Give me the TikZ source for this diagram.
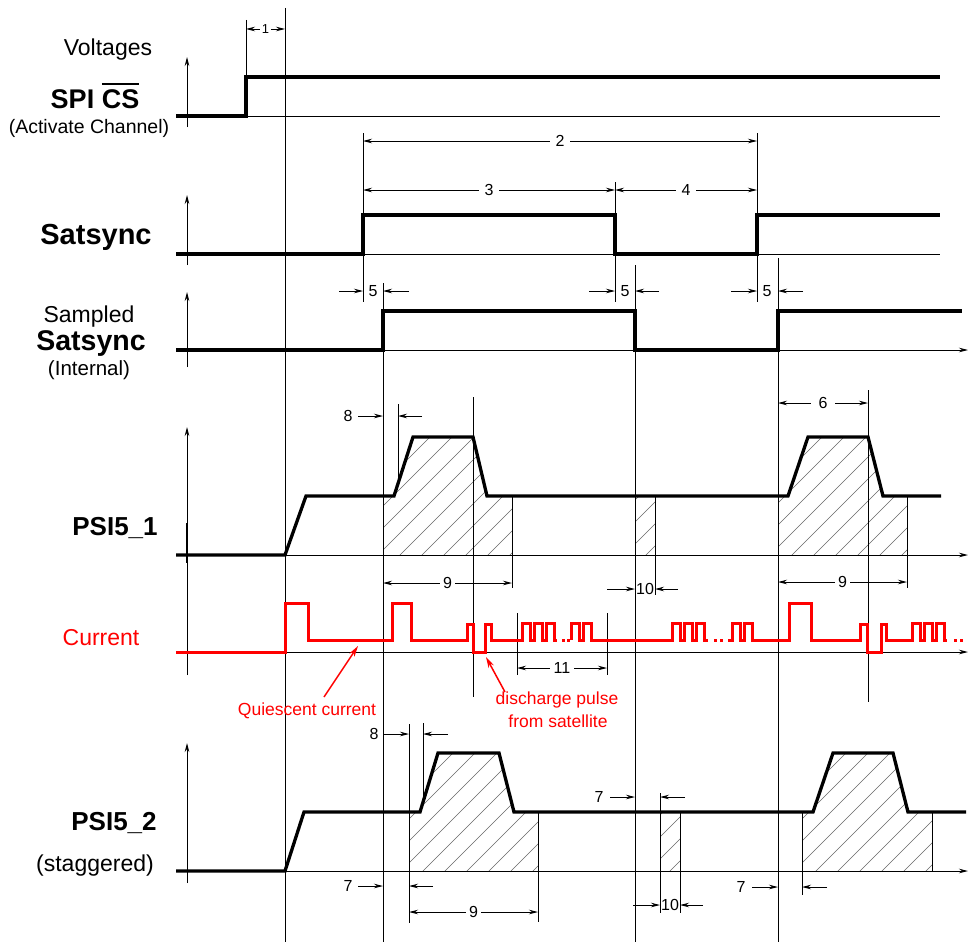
\documentclass[tikz,border=0pt]{standalone}
\usepackage{fontspec}
\setmainfont{Liberation Sans}
\usetikzlibrary{arrows.meta}
\tikzset{
 sig/.style={line width=3.3pt, line join=miter},
 rsig/.style={red, line width=3pt, line join=miter},
 thinl/.style={line width=0.9pt},
 axisl/.style={line width=0.9pt, -{Stealth[length=9pt,width=4.5pt]}},
 dimboth/.style={line width=0.9pt, {Stealth[length=9pt,width=4.5pt]}-{Stealth[length=9pt,width=4.5pt]}},
 dimin/.style={line width=0.9pt, -{Stealth[length=9pt,width=4.5pt]}},
 hatchl/.style={black!60, line width=0.55pt},
 numl/.style={font=\fontsize{16}{17}\selectfont, inner sep=1pt},
 numf/.style={numl, fill=white, inner xsep=4pt},
 rlab/.style={red, font=\fontsize{17.5}{19}\selectfont, inner sep=0pt},
 rarr/.style={red, line width=1.5pt, -{Stealth[length=11pt,width=6pt]}},
 lab/.style={inner sep=0pt},
}
\newcommand\ovbar[1]{\vbox{\hrule height 2.6pt\kern 4pt\hbox{#1}}}
\newcommand\hatchit[4]{\begin{scope}\clip #1;\foreach \k in {0,...,#4}{\draw[hatchl] ({#2+22*\k-150},{#3+150}) -- ++(400,-400);}\end{scope}}
\begin{document}
\begin{tikzpicture}[x=1pt,y=-1pt]
\useasboundingbox (0,0) rectangle (969,942);
% ---------- hatching
\hatchit{(383,555) -- (383,496) -- (394,496) -- (413,437) -- (473,437) -- (487,496) -- (512,496) -- (512,555) -- cycle}{268}{555}{11}
\hatchit{(778,555) -- (778,496) -- (788,496) -- (808,437) -- (868,437) -- (883,496) -- (907,496) -- (907,555) -- cycle}{660}{555}{11}
\hatchit{(635,555) -- (635,496) -- (655,496) -- (655,555) -- cycle}{580}{555}{4}
\hatchit{(409,871) -- (409,812) -- (420,812) -- (438,753) -- (499,753) -- (514,812) -- (538,812) -- (538,871) -- cycle}{291}{871}{12}
\hatchit{(660,871) -- (660,812) -- (680,812) -- (680,871) -- cycle}{604}{871}{4}
\hatchit{(802,871) -- (802,812) -- (813,812) -- (833,753) -- (893,753) -- (908,812) -- (932,812) -- (932,871) -- cycle}{684}{871}{12}
% ---------- long vertical reference lines
\draw[thinl] (285,8) -- (285,942);
\draw[thinl] (383,283) -- (383,942);
\draw[thinl] (635,265) -- (635,942);
\draw[thinl] (778,258) -- (778,942);
\draw[thinl] (473,397) -- (473,697);
\draw[thinl] (868,390) -- (868,702);
\draw[thinl] (409,724) -- (409,923);
% extension lines
\draw[thinl] (246,20) -- (246,116);
\draw[thinl] (363,133) -- (363,302);
\draw[thinl] (757,133) -- (757,302);
\draw[thinl] (615,182) -- (615,302);
\draw[thinl] (398,404) -- (398,484);
\draw[thinl] (512,496) -- (512,588);
\draw[thinl] (907,496) -- (907,588);
\draw[thinl] (655,496) -- (655,595);
\draw[thinl] (517,613) -- (517,675);
\draw[thinl] (607,613) -- (607,675);
\draw[thinl] (423,723) -- (423,802);
\draw[thinl] (538,812) -- (538,922);
\draw[thinl] (660,793) -- (660,913);
\draw[thinl] (680,812) -- (680,913);
\draw[thinl] (802,812) -- (802,895);
\draw[thinl] (932,812) -- (932,871);
% ---------- baselines and axes
\draw[thinl] (176,116) -- (940,116);
\draw[thinl] (176,254) -- (940,254);
\draw[axisl] (176,350) -- (968,350);
\draw[axisl] (176,555) -- (968,555);
\draw[axisl] (176,652) -- (968,652);
\draw[axisl] (176,871) -- (968,871);
\draw[axisl] (187,127) -- (187,57);
\draw[axisl] (187,265) -- (187,195);
\draw[axisl] (187,367) -- (187,292);
\draw[axisl] (187,675) -- (187,427);
\draw[line width=1.6pt] (187,523) -- (187,563);
\draw[axisl] (187,883) -- (187,743);
% ---------- signals
\draw[sig] (176,116) -- (246,116) -- (246,77) -- (940,77);
\draw[sig] (176,254) -- (363,254) -- (363,215) -- (615,215) -- (615,254) -- (757,254) -- (757,215) -- (940,215);
\draw[sig] (176,350) -- (383,350) -- (383,311) -- (635,311) -- (635,350) -- (778,350) -- (778,311) -- (962,311);
\draw[sig] (176,555) -- (285,555) -- (306,496) -- (394,496) -- (413,437) -- (473,437) -- (487,496) -- (788,496) -- (808,437) -- (868,437) -- (883,496) -- (941,496);
\draw[sig] (176,871) -- (285,871) -- (304,812) -- (420,812) -- (438,753) -- (499,753) -- (514,812) -- (813,812) -- (833,753) -- (893,753) -- (908,812) -- (966,812);
% current
\draw[rsig] (176,652) -- (285,652) -- (285,603) -- (308,603) -- (308,640) -- (392,640) -- (392,603) -- (411,603) -- (411,640) -- (467,640) -- (467,624) -- (473,624) -- (473,652) -- (485,652) -- (485,624) -- (491,624) -- (491,640) -- (522,640)
 -- ++(0,-17) -- ++(8,0) -- ++(0,17) -- ++(4,0) -- ++(0,-17) -- ++(8,0) -- ++(0,17) -- ++(4,0) -- ++(0,-17) -- ++(8,0) -- ++(0,17) -- (557,640);
\fill[red] (562,638.5) rectangle ++(3,3);
\fill[red] (567,638.5) rectangle ++(3,3);
\draw[rsig] (571,640) -- ++(0,-17) -- ++(8,0) -- ++(0,17) -- ++(4,0) -- ++(0,-17) -- ++(8,0) -- ++(0,17) -- (672,640)
 -- ++(0,-17) -- ++(8,0) -- ++(0,17) -- ++(4,0) -- ++(0,-17) -- ++(8,0) -- ++(0,17) -- ++(4,0) -- ++(0,-17) -- ++(8,0) -- ++(0,17) -- (708,640);
\fill[red] (714,638.5) rectangle ++(3,3);
\fill[red] (720,638.5) rectangle ++(3,3);
\draw[rsig] (728,640) -- (732,640) -- ++(0,-17) -- ++(8,0) -- ++(0,17) -- ++(4,0) -- ++(0,-17) -- ++(8,0) -- ++(0,17) -- (789,640) -- (789,603) -- (811,603) -- (811,640) -- (860,640) -- (860,624) -- (867,624) -- (867,652) -- (881,652) -- (881,624) -- (886,624) -- (886,640) -- (912,640)
 -- ++(0,-17) -- ++(8,0) -- ++(0,17) -- ++(4,0) -- ++(0,-17) -- ++(8,0) -- ++(0,17) -- ++(4,0) -- ++(0,-17) -- ++(8,0) -- ++(0,17) -- (947,640);
\fill[red] (954,638.5) rectangle ++(3,3);
\fill[red] (960,638.5) rectangle ++(3,3);
% ---------- dimensions
\draw[dimboth] (246,29) -- node[numf, font=\fontsize{13}{14}\selectfont, inner xsep=2pt] (d1) {1} (285,29);
\draw[dimboth] (363,141) -- node[numf, inner xsep=6pt] (d2) {2} (757,141);
\draw[dimboth] (363,190) -- node[numf, inner xsep=6pt] (d3) {3} (615,190);
\draw[dimboth] (615,190) -- node[numf, inner xsep=6pt] (d4) {4} (757,190);
% 5
\draw[dimin] (339,291) -- (363,291); \draw[dimin] (409,291) -- (383,291); \node[numl] (d5a) at (373,291) {5};
\draw[dimin] (589,291) -- (615,291); \draw[dimin] (659,291) -- (635,291); \node[numl] (d5b) at (625,291) {5};
\draw[dimin] (731,291) -- (757,291); \draw[dimin] (803,291) -- (778,291); \node[numl] (d5c) at (767,291) {5};
% 8 (PSI5_1)
\draw[dimin] (358,416) -- (383,416); \draw[dimin] (422,416) -- (398,416); \node[numl] (d8a) at (348,416) {8};
% 6
\draw[dimboth] (778,403) -- node[numf, inner xsep=8pt] (d6) {6} (868,403);
% 9
\draw[dimboth] (383,583) -- node[numf, inner xsep=3pt] (d9a) {9} (512,583);
\draw[dimboth] (778,582) -- node[numf, inner xsep=3pt] (d9b) {9} (907,582);
% 10 (PSI5_1)
\draw[dimin] (607,589) -- (635,589); \draw[dimin] (678,589) -- (655,589); \node[numl] (d10a) at (645,589) {10};
% 11
\draw[dimboth] (517,668) -- node[numf, inner xsep=4pt] (d11) {11} (607,668);
% 8 (PSI5_2)
\draw[dimin] (383,734) -- (409,734); \draw[dimin] (448,734) -- (423,734); \node[numl] (d8b) at (374,734) {8};
% 7
\draw[dimin] (358,886) -- (383,886); \draw[dimin] (433,886) -- (409,886); \node[numl] (d7a) at (348,886) {7};
\draw[dimin] (610,797) -- (635,797); \draw[dimin] (685,797) -- (660,797); \node[numl] (d7b) at (599,797) {7};
\draw[dimin] (752,887) -- (778,887); \draw[dimin] (827,887) -- (802,887); \node[numl] (d7c) at (741,887) {7};
% 9 (PSI5_2)
\draw[dimboth] (409,912) -- node[numf, inner xsep=3pt] (d9c) {9} (538,912);
% 10 (PSI5_2)
\draw[dimin] (633,905) -- (660,905); \draw[dimin] (703,905) -- (680,905); \node[numl] (d10b) at (670,905) {10};
% ---------- red annotations
\node[rlab] (quies) at (307,711) {Quiescent current};
\node[rlab] (disch1) at (557,700) {discharge pulse};
\node[rlab] (disch2) at (558,721) {from satellite};
\coordinate (qtip) at (358,646);
\coordinate (dtip) at (486,657);
\draw[rarr] (324,697) -- (qtip);
\draw[rarr] (505,692) -- (dtip);
% ---------- signal labels
\node[lab, font=\fontsize{23}{25}\selectfont] (volt) at (108,50) {Voltages};
\node[lab, font=\bfseries\fontsize{27}{30}\selectfont, anchor=base] (spi) at (95,108) {SPI \ovbar{CS}};
\node[lab, font=\fontsize{19.5}{21}\selectfont] (act) at (89,128) {(Activate Channel)};
\node[lab, font=\bfseries\fontsize{29}{31}\selectfont] (sat) at (96,237) {Satsync};
\node[lab, font=\fontsize{23}{25}\selectfont] (samp) at (89,317) {Sampled};
\node[lab, font=\bfseries\fontsize{28.5}{30}\selectfont] (sat2) at (91,344) {Satsync};
\node[lab, font=\fontsize{20.5}{22}\selectfont] (intl) at (89,370) {(Internal)};
\node[lab, font=\bfseries\fontsize{26}{28}\selectfont] (p1) at (115,528) {PSI5\_1};
\node[lab, red, font=\fontsize{23}{25}\selectfont] (cur) at (101,638) {Current};
\node[lab, font=\bfseries\fontsize{26}{28}\selectfont] (p2) at (114,823) {PSI5\_2};
\node[lab, font=\fontsize{23}{25}\selectfont] (stag) at (95,866) {(staggered)};
\end{tikzpicture}
\end{document}
